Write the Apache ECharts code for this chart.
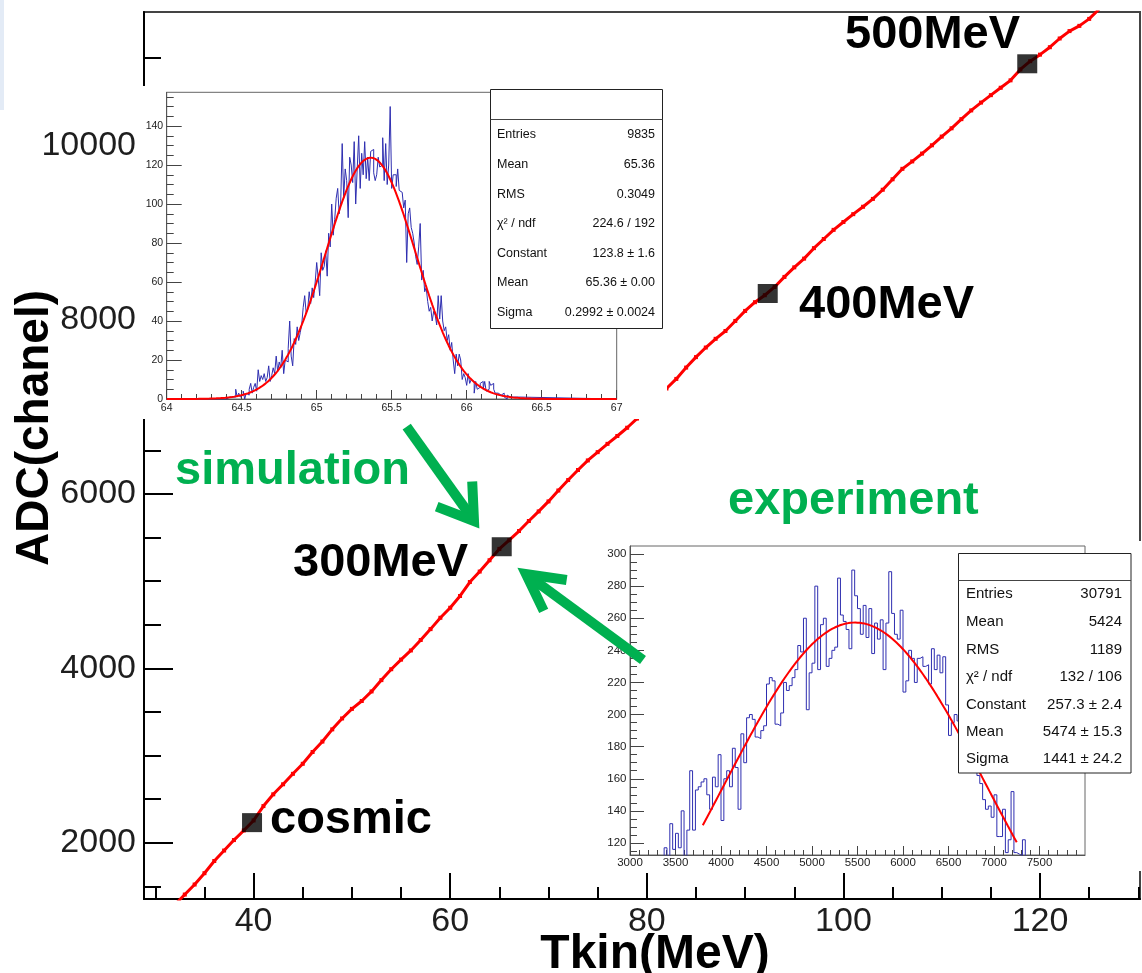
<!DOCTYPE html>
<html>
<head>
<meta charset="utf-8">
<script src="https://cdn.jsdelivr.net/npm/echarts@6/dist/echarts.min.js"></script>
<style>
  html, body { margin: 0; padding: 0; background: #fff; }
  #chart { width: 1142px; height: 973px; }
</style>
</head>
<body>
<div id="chart"></div>
<script>
// ADC response vs proton kinetic energy, with simulated and measured spectra

const FONT = '"Liberation Sans", Arial, Helvetica, sans-serif';

// Calibration curve: kinetic energy (MeV) vs ADC channel
const tkinMeV = [32, 33, 34, 35, 36, 37, 38, 39, 40, 41, 42, 43, 44, 45, 46, 47, 48, 49, 50,
  51, 52, 53, 54, 55, 56, 57, 58, 59, 60, 61, 62, 63, 64, 65, 66, 67, 68, 69, 70,
  71, 72, 73, 74, 75, 76, 77, 78, 79, 80, 81, 82, 83, 84, 85, 86, 87, 88, 89, 90,
  91, 92, 93, 94, 95, 96, 97, 98, 99, 100, 101, 102, 103, 104, 105, 106, 107, 108, 109, 110,
  111, 112, 113, 114, 115, 116, 117, 118, 119, 120, 121, 122, 123, 124, 125, 126];
const adcChannel = [1290, 1405, 1520, 1650, 1790, 1910, 2030, 2140, 2255, 2420, 2555, 2670, 2790, 2905, 3040, 3160, 3300, 3425, 3535,
  3625, 3735, 3865, 3990, 4100, 4205, 4325, 4450, 4580, 4695, 4830, 4990, 5110, 5240, 5370, 5470, 5575, 5690, 5800, 5915,
  6040, 6160, 6275, 6385, 6480, 6575, 6665, 6760, 6865, 6990, 7100, 7210, 7320, 7450, 7570, 7680, 7780, 7870, 7985, 8100,
  8200, 8280, 8375, 8490, 8600, 8700, 8820, 8925, 9030, 9120, 9210, 9295, 9385, 9490, 9610, 9730, 9815, 9905, 10000, 10100,
  10195, 10300, 10400, 10490, 10575, 10660, 10745, 10870, 10965, 11040, 11125, 11225, 11310, 11370, 11450, 11560];

// Reference beam points
const refNames = ['cosmic', '300MeV', '400MeV', '500MeV'];
const refTkin = [39.84, 65.24, 92.3, 118.7];
const refAdc = [2230, 5395, 8300, 10935];

// Main axes ticks
const mainXMajor = [40, 60, 80, 100, 120];
const mainYMajor = [2000, 4000, 6000, 8000, 10000];

// Simulated energy deposit histogram (bin width 0.01, starting at 64.40)
const simBinStart = 64.40;
const simBinWidth = 0.01;
const simCounts = [
  0, 1, 0, 1, 2, 1, 5, 1, 3, 1,
  2, 4, 0, 3, 2, 5, 8, 3, 6, 8,
  4, 15, 9, 12, 10, 13, 9, 11, 17, 9,
  12, 16, 13, 22, 14, 19, 16, 25, 13, 20,
  19, 26, 40, 22, 17, 31, 28, 37, 30, 34,
  38, 47, 53, 44, 46, 55, 49, 57, 52, 60,
  70, 62, 53, 75, 66, 68, 76, 63, 85, 78,
  100, 84, 92, 103, 108, 95, 101, 131, 103, 118,
  112, 93, 124, 120, 111, 132, 100, 118, 135, 108,
  126, 115, 132, 113, 124, 112, 127, 128, 116, 112,
  115, 124, 119, 120, 134, 112, 131, 110, 120, 150,
  108, 115, 115, 109, 118, 107, 106, 106, 98, 102,
  70, 95, 98, 88, 85, 80, 73, 69, 78, 90,
  61, 66, 55, 57, 50, 45, 47, 40, 45, 43,
  38, 53, 41, 53, 40, 35, 37, 30, 33, 25,
  29, 20, 13, 23, 17, 23, 20, 10, 13, 11,
  7, 13, 8, 10, 9, 3, 9, 5, 6, 8,
  9, 5, 9, 4, 5, 9, 7, 8, 5, 3,
  3, 4, 2, 1, 3, 1, 0, 2, 1, 2,
  1, 0, 1, 0, 1];
const simFit = { constant: 123.8, mean: 65.36, sigma: 0.2992, from: 64, to: 67 };
const simStatNames = ['Entries', 'Mean', 'RMS', 'χ² / ndf', 'Constant', 'Mean', 'Sigma'];
const simStatValues = ['9835', '65.36', '0.3049', '224.6 / 192', '123.8 ± 1.6', '65.36 ± 0.00', '0.2992 ± 0.0024'];
const simXMajor = [64, 64.5, 65, 65.5, 66, 66.5, 67];
const simYMajor = [0, 20, 40, 60, 80, 100, 120, 140];

// Measured ADC spectrum (bin width 31.25, starting at 3375)
const expBinStart = 3375;
const expBinWidth = 31.25;
const expCounts = [
  117, 108, 132, 116, 126, 117, 140, 110, 128, 165,
  128, 153, 155, 158, 160, 150, 141, 161, 155, 175,
  134, 160, 165, 155, 179, 167, 141, 188, 170, 198,
  200, 197, 186, 185, 190, 193, 219, 223, 221, 194,
  193, 201, 220, 215, 218, 223, 228, 243, 239, 260,
  203, 226, 232, 280, 228, 256, 260, 230, 235, 240,
  242, 285, 262, 258, 253, 241, 290, 274, 266, 250,
  268, 248, 266, 238, 257, 247, 259, 228, 257, 289,
  263, 250, 247, 265, 214, 221, 240, 235, 220, 235,
  236, 230, 231, 219, 241, 228, 237, 226, 236, 206,
  187, 195, 200, 196, 190, 185, 178, 180, 172, 168,
  162, 157, 147, 141, 143, 136, 150, 124, 124, 141,
  114, 122, 152, 114, 113, 112, 122, 105];
const expFit = { constant: 257.3, mean: 5474, sigma: 1441, from: 3800, to: 7250 };
const expStatNames = ['Entries', 'Mean', 'RMS', 'χ² / ndf', 'Constant', 'Mean', 'Sigma'];
const expStatValues = ['30791', '5424', '1189', '132 / 106', '257.3 ± 2.4', '5474 ± 15.3', '1441 ± 24.2'];
const expXMajor = [3000, 3500, 4000, 4500, 5000, 5500, 6000, 6500, 7000, 7500];
const expYMajor = [120, 140, 160, 180, 200, 220, 240, 260, 280, 300];

// ---- helpers ----
function minorTicks(from, to, step, majors) {
  const out = [];
  for (let k = 0; from + k * step <= to + 1e-9; k++) {
    const v = +(from + k * step).toFixed(6);
    if (!majors.some(m => Math.abs(m - v) < 1e-6)) out.push(v);
  }
  return out;
}

function histPath(start, width, counts, lead, tail, floor) {
  const pts = [];
  if (lead !== null) pts.push([lead, floor]);
  pts.push([start, floor]);
  counts.forEach((c, i) => {
    const xl = +(start + i * width).toFixed(5);
    const xr = +(start + (i + 1) * width).toFixed(5);
    pts.push([xl, c], [xr, c]);
  });
  const end = +(start + counts.length * width).toFixed(5);
  pts.push([end, floor]);
  if (tail !== null) pts.push([tail, floor]);
  return pts;
}

function gaussCurve(f, step) {
  const pts = [];
  for (let x = f.from; x <= f.to + 1e-9; x += step) {
    pts.push([x, f.constant * Math.exp(-0.5 * Math.pow((x - f.mean) / f.sigma, 2))]);
  }
  return pts;
}

const fmt = v => String(v);

function axisPair(dim, gridIndex, min, max, major, minor, st) {
  const pos = dim === 'x' ? 'bottom' : 'left';
  const majorAxis = {
    type: 'value', gridIndex, min, max, position: pos, z: st.z,
    axisLine: { show: true, onZero: false, lineStyle: { color: st.lineColor, width: st.lineWidth } },
    axisTick: { show: true, inside: true, length: st.majorLen, customValues: major,
      lineStyle: { color: st.tickColor, width: st.tickWidth } },
    axisLabel: { show: true, customValues: major, formatter: fmt, margin: st.margin,
      fontSize: st.fontSize, fontFamily: FONT, color: st.labelColor, hideOverlap: false },
    splitLine: { show: false }, minorTick: { show: false }
  };
  const minorAxis = {
    type: 'value', gridIndex, min, max, position: pos, z: st.z,
    axisLine: { show: false, onZero: false },
    axisTick: { show: true, inside: true, length: st.minorLen, customValues: minor,
      lineStyle: { color: st.tickColor, width: st.tickWidth } },
    axisLabel: { show: false },
    splitLine: { show: false }
  };
  return [majorAxis, minorAxis];
}

// ---- geometry of the three plotting frames ----
const mainGrid = { left: 144, top: 12, width: 996, height: 887 };
const simGrid = { left: 166.7, top: 92.3, width: 450, height: 306.7 };
const expGrid = { left: 630, top: 546, width: 455, height: 309 };

const mainStyle = { z: 0, lineColor: '#000', lineWidth: 2, tickColor: '#000', tickWidth: 2,
  fontSize: 34, labelColor: '#1e1e1e' };
const simStyle = { z: 7, lineColor: '#555', lineWidth: 1, tickColor: '#444', tickWidth: 1,
  fontSize: 10.5, labelColor: '#222' };
const expStyle = { z: 7, lineColor: '#555', lineWidth: 1, tickColor: '#444', tickWidth: 1,
  fontSize: 11.5, labelColor: '#222' };

const xAxes = [
  ...axisPair('x', 0, 28.85, 130.17, mainXMajor, minorTicks(30, 130, 5, mainXMajor),
    Object.assign({}, mainStyle, { majorLen: 26, minorLen: 12, margin: 6 })),
  ...axisPair('x', 1, 64, 67, simXMajor, minorTicks(64, 67, 0.1, simXMajor),
    Object.assign({}, simStyle, { majorLen: 9, minorLen: 5, margin: 4 })),
  ...axisPair('x', 2, 3000, 8000, expXMajor, minorTicks(3000, 7900, 100, expXMajor),
    Object.assign({}, expStyle, { majorLen: 9, minorLen: 5, margin: 2 }))
];
const yAxes = [
  ...axisPair('y', 0, 1354, 11529, mainYMajor, minorTicks(1500, 11000, 500, mainYMajor),
    Object.assign({}, mainStyle, { majorLen: 29, minorLen: 17, margin: 8 })),
  ...axisPair('y', 1, 0, 157.3, simYMajor, minorTicks(5, 155, 5, simYMajor),
    Object.assign({}, simStyle, { majorLen: 15, minorLen: 7, margin: 3.5 })),
  ...axisPair('y', 2, 112.5, 305, expYMajor, minorTicks(115, 300, 5, expYMajor),
    Object.assign({}, expStyle, { majorLen: 14, minorLen: 7, margin: 3.5 }))
];

// ---- overlay graphics: inset backgrounds, stat boxes, labels, arrows ----
const GREEN = '#00b050';

function statBox(x, y, w, h, headerH, names, values, rowsY, fontSize, textLeft, textRight) {
  const els = [
    { type: 'rect', shape: { x, y, width: w, height: h }, z: 20,
      style: { fill: '#fff', stroke: '#222', lineWidth: 1 } },
    { type: 'line', shape: { x1: x, y1: y + headerH, x2: x + w, y2: y + headerH }, z: 21,
      style: { stroke: '#444', lineWidth: 1 } }
  ];
  names.forEach((n, i) => {
    els.push({ type: 'text', x: textLeft, y: rowsY[i], z: 21,
      style: { text: n, fontSize, fontFamily: FONT, fill: '#111', align: 'left', verticalAlign: 'middle' } });
    els.push({ type: 'text', x: textRight, y: rowsY[i], z: 21,
      style: { text: values[i], fontSize, fontFamily: FONT, fill: '#111', align: 'right', verticalAlign: 'middle' } });
  });
  return els;
}

function bigText(text, x, y, color, opts) {
  return Object.assign({ type: 'text', x, y, z: 30,
    style: { text, fontSize: 47, fontWeight: 'bold', fontFamily: FONT, fill: color,
      align: 'left', verticalAlign: 'middle' } }, opts || {});
}

function arrow(shaft, head) {
  return [
    { type: 'polyline', shape: { points: shaft }, z: 30,
      style: { stroke: GREEN, lineWidth: 10, fill: null, lineCap: 'butt' } },
    { type: 'polyline', shape: { points: head }, z: 30,
      style: { stroke: GREEN, lineWidth: 10, fill: null, lineJoin: 'miter', lineCap: 'butt' } }
  ];
}

const graphics = [
  { type: 'rect', shape: { x: 0, y: 0, width: 4, height: 110 }, z: 1, style: { fill: '#e3ebf6' } },
  { type: 'rect', shape: { x: 142, y: 86, width: 525, height: 333 }, z: 5, style: { fill: '#fff' } },
  { type: 'rect', shape: { x: 596, y: 541, width: 546, height: 330 }, z: 5, style: { fill: '#fff' } },
  ...statBox(490.5, 89.5, 172, 239, 30, simStatNames, simStatValues,
    [134.5, 164.5, 194.5, 223.5, 253.5, 283, 312.5], 12.5, 497, 655),
  ...statBox(958.5, 553.5, 172.5, 219.5, 27, expStatNames, expStatValues,
    [594.3, 622.3, 650, 677.3, 705, 732.3, 759.3], 15, 966, 1122),
  bigText(refNames[3], 845, 35, '#000'),
  bigText(refNames[2], 799, 305, '#000'),
  bigText(refNames[1], 293, 563.5, '#000'),
  bigText(refNames[0], 270, 820, '#000'),
  bigText('simulation', 175, 471, GREEN),
  bigText('experiment', 728, 501, GREEN),
  ...arrow([[406.7, 426.7], [472, 518]], [[436.7, 506.7], [474, 521], [472.2, 481.6]]),
  ...arrow([[643, 660], [528, 575.5]], [[566.7, 580], [526, 574], [543.7, 610.8]]),
  { type: 'text', x: 35, y: 428, rotation: Math.PI / 2, z: 30,
    style: { text: 'ADC(chanel)', fontSize: 46, fontWeight: 'bold', fontFamily: FONT, fill: '#000',
      align: 'center', verticalAlign: 'middle' } },
  { type: 'text', x: 655, y: 955, z: 30,
    style: { text: 'Tkin(MeV)', fontSize: 48, fontWeight: 'bold', fontFamily: FONT, fill: '#000',
      align: 'center', verticalAlign: 'middle' } }
];

const HIST_BLUE = '#2e2eb0';

const option = {
  animation: false,
  backgroundColor: '#fff',
  grid: [
    Object.assign({ show: true, borderColor: '#444', borderWidth: 2, backgroundColor: 'transparent',
      containLabel: false, outerBoundsMode: 'none', z: 0 }, mainGrid),
    Object.assign({ show: true, borderColor: '#666', borderWidth: 1, backgroundColor: 'transparent',
      containLabel: false, outerBoundsMode: 'none', z: 6 }, simGrid),
    Object.assign({ show: true, borderColor: '#666', borderWidth: 1, backgroundColor: 'transparent',
      containLabel: false, outerBoundsMode: 'none', z: 6 }, expGrid)
  ],
  xAxis: xAxes,
  yAxis: yAxes,
  series: [
    {
      name: 'ADC vs Tkin', type: 'line', xAxisIndex: 0, yAxisIndex: 0, z: 2,
      data: tkinMeV.map((t, i) => [t, adcChannel[i]]),
      symbol: 'rect', symbolSize: 4, showSymbol: true, clip: true,
      lineStyle: { color: '#ff0000', width: 3 }, itemStyle: { color: '#ff0000' }
    },
    {
      name: 'reference points', type: 'scatter', xAxisIndex: 0, yAxisIndex: 0, z: 3,
      data: refTkin.map((t, i) => [t, refAdc[i]]),
      symbol: 'rect', symbolSize: [20, 19], itemStyle: { color: '#000' }
    },
    {
      name: 'simulation', type: 'line', xAxisIndex: 2, yAxisIndex: 2, z: 8,
      data: histPath(simBinStart, simBinWidth, simCounts, 64, 67, 0),
      symbol: 'none', clip: true, lineStyle: { color: HIST_BLUE, width: 1 }
    },
    {
      name: 'simulation fit', type: 'line', xAxisIndex: 2, yAxisIndex: 2, z: 9,
      data: gaussCurve(simFit, 0.005),
      symbol: 'none', clip: true, lineStyle: { color: '#ff0000', width: 2 }
    },
    {
      name: 'experiment', type: 'line', xAxisIndex: 4, yAxisIndex: 4, z: 8,
      data: histPath(expBinStart, expBinWidth, expCounts, null, null, 100),
      symbol: 'none', clip: true, lineStyle: { color: HIST_BLUE, width: 1 }
    },
    {
      name: 'experiment fit', type: 'line', xAxisIndex: 4, yAxisIndex: 4, z: 9,
      data: gaussCurve(expFit, 25),
      symbol: 'none', clip: true, lineStyle: { color: '#ff0000', width: 2 }
    }
  ],
  graphic: { elements: graphics }
};

const chart = echarts.init(document.getElementById('chart'), null, { renderer: 'canvas', width: 1142, height: 973 });
chart.setOption(option);
</script>
</body>
</html>
